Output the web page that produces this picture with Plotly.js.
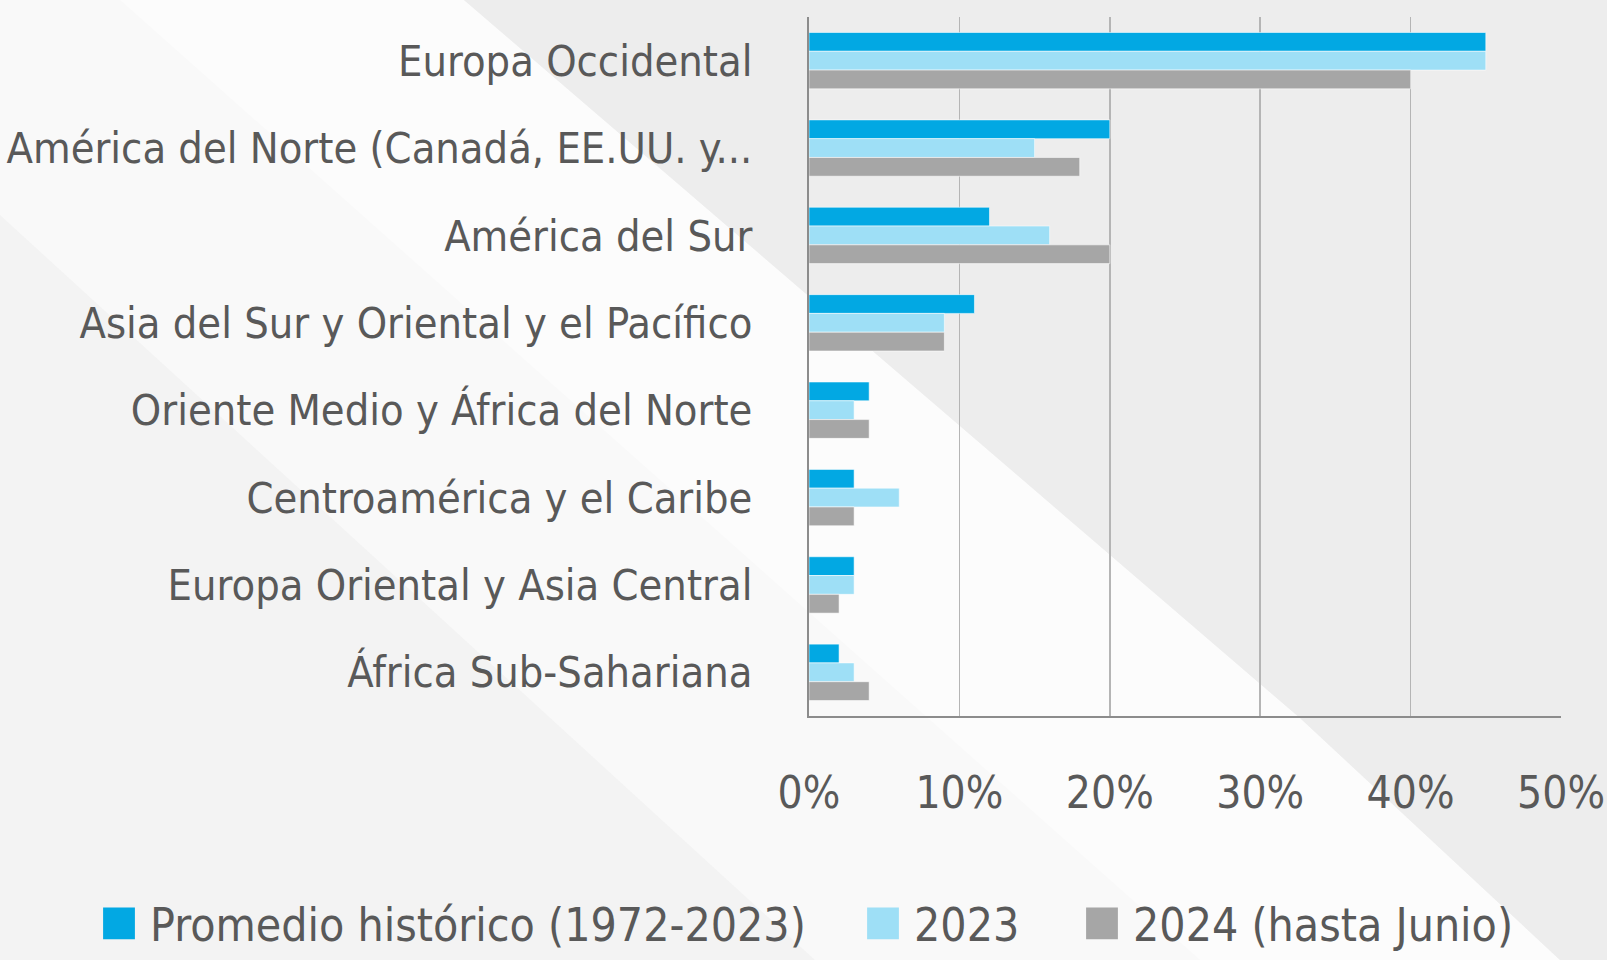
<!DOCTYPE html>
<html>
<head>
<meta charset="utf-8">
<script src="https://cdn.plot.ly/plotly-3.0.1.min.js"></script>
<style>html,body{margin:0;padding:0;background:#f5f5f5;}#chart{width:1607px;height:960px;}</style>
</head>
<body>
<div id="chart"></div>
<script>
// ---- data ----
const regions = [
  "Europa Occidental",
  "América del Norte (Canadá, EE.UU. y...",
  "América del Sur",
  "Asia del Sur y Oriental y el Pacífico",
  "Oriente Medio y África del Norte",
  "Centroamérica y el Caribe",
  "Europa Oriental y Asia Central",
  "África Sub-Sahariana"
];
const seriesNames = ["Promedio histórico (1972-2023)", "2023", "2024 (hasta Junio)"];
const promedioHistorico = [45, 20, 12, 11, 4, 3, 3, 2];
const valores2023 = [45, 15, 16, 9, 3, 6, 3, 3];
const valores2024 = [40, 18, 20, 9, 4, 3, 2, 4];
const xTickVals = [0, 10, 20, 30, 40, 50];
const xTickText = ["0%", "10%", "20%", "30%", "40%", "50%"];

// ---- styling ----
const colors = ["#02a8e3", "#9edff6", "#a6a6a6"];
const FONT = '"DejaVu Sans Condensed", "Liberation Sans Narrow", "Roboto", sans-serif';
const W = 1607, H = 960;
const M = {l: 809, r: 46, t: 17, b: 244};
const PW = W - M.l - M.r, PH = H - M.t - M.b;
const px = X => (X - M.l) / PW;
const py = Y => (H - M.b - Y) / PH;
function poly(pts, fill) {
  return {
    type: 'path', xref: 'paper', yref: 'paper', layer: 'below',
    path: 'M' + pts.map(p => px(p[0]).toFixed(5) + ',' + py(p[1]).toFixed(5)).join('L') + 'Z',
    fillcolor: fill, line: {width: 0}
  };
}
// one legend box per series, left edges in pixels
const legendIds = ['legend', 'legend2', 'legend3'];
const legendLeft = [88, 852, 1071];

const allSeries = [promedioHistorico, valores2023, valores2024];
const traces = allSeries.map((vals, i) => ({
  type: 'bar', orientation: 'h',
  y: regions, x: vals, name: seriesNames[i],
  legend: legendIds[i],
  marker: {color: colors[i], line: {color: 'rgba(255,255,255,0.55)', width: 1}},
  hoverinfo: 'none'
}));

const layout = {
  width: W, height: H,
  margin: M,
  paper_bgcolor: '#f3f3f3',
  plot_bgcolor: 'rgba(0,0,0,0)',
  font: {family: FONT, color: '#595959', size: 44},
  barmode: 'group',
  bargap: 0.355,
  bargroupgap: 0,
  showlegend: true,
  xaxis: {
    range: [0, 50], tickvals: xTickVals, ticktext: xTickText,
    showgrid: true, gridcolor: '#b5b5b5', gridwidth: 1.5,
    showline: true, linecolor: '#8c8c8c', linewidth: 2,
    zeroline: false, ticks: '', ticklabelstandoff: 37,
    tickfont: {family: FONT, size: 44, color: '#595959'}, fixedrange: true
  },
  yaxis: {
    type: 'category', autorange: 'reversed',
    showgrid: false, showline: true, linecolor: '#8c8c8c', linewidth: 2,
    zeroline: false, ticks: '', ticklabelstandoff: 46,
    tickfont: {family: FONT, size: 43, color: '#595959'}, fixedrange: true
  },
  shapes: [
    // light band between the two diagonals (incl. top-left)
    poly([[0, 215], [0, 0], [464, 0], [1300, 718], [1560, 960], [815, 960]], '#f9f9f9'),
    // brighter stripe along the upper diagonal
    poly([[464, 0], [1300, 718], [1560, 960], [1200, 960], [120, 0]], 'rgba(255,255,255,0.45)'),
    // grey area on the right
    poly([[464, 0], [1607, 0], [1607, 960], [1560, 960], [1300, 718]], '#ededed')
  ]
};
legendIds.forEach((id, i) => {
  layout[id] = {
    orientation: 'h',
    xref: 'container', x: legendLeft[i] / W, xanchor: 'left',
    yref: 'container', y: -0.032, yanchor: 'bottom',
    font: {family: FONT, size: 46, color: '#595959'},
    bgcolor: 'rgba(0,0,0,0)', itemwidth: 52
  };
});

Plotly.newPlot('chart', traces, layout, {staticPlot: true, displayModeBar: false}).then(gd => {
  // enlarge legend swatches to match the square markers of the reference
  gd.querySelectorAll('.legendpoints path').forEach(p => {
    const t = p.getAttribute('transform') || '';
    p.setAttribute('transform', t + ' scale(2.65)');
    p.style.strokeWidth = '0px';
  });
});
</script>
</body>
</html>
